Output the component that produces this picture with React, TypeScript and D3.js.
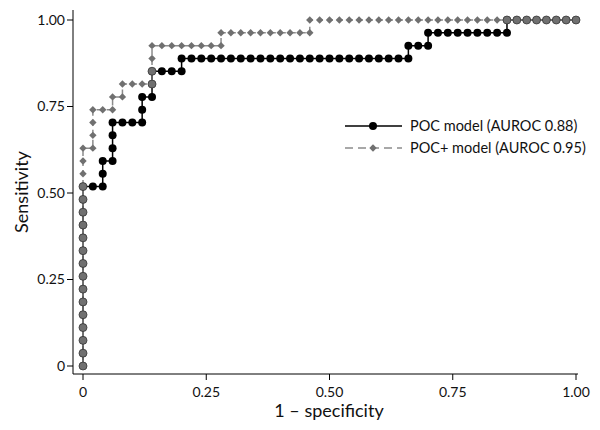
import React from "react";
import * as d3 from "d3";

// ROC data: counts of false positives (out of 50 negatives) and true positives (out of 27 positives)
const N_NEG = 50;
const N_POS = 27;

const pocFalsePos = [
  0, 0, 0, 0, 0, 0, 0, 0, 0, 0, 0, 0, 0, 0, 0,
  1, 2, 2, 2, 3, 3, 3, 3, 4, 5, 6, 6, 6, 7, 7, 7, 8, 9, 10, 10,
  11, 12, 13, 14, 15, 16, 17, 18, 19, 20, 21, 22, 23, 24, 25, 26, 27, 28, 29, 30, 31, 32, 33,
  33, 34, 35, 35,
  36, 37, 38, 39, 40, 41, 42, 43,
  43, 44, 45, 46, 47, 48, 49, 50,
];
const pocTruePos = [
  0, 1, 2, 3, 4, 5, 6, 7, 8, 9, 10, 11, 12, 13, 14,
  14, 14, 15, 16, 16, 17, 18, 19, 19, 19, 19, 20, 21, 21, 22, 23, 23, 23, 23, 24,
  24, 24, 24, 24, 24, 24, 24, 24, 24, 24, 24, 24, 24, 24, 24, 24, 24, 24, 24, 24, 24, 24, 24,
  25, 25, 25, 26,
  26, 26, 26, 26, 26, 26, 26, 26,
  27, 27, 27, 27, 27, 27, 27, 27,
];

const pocPlusFalsePos = [
  0, 0, 0, 0, 0, 0, 0, 0, 0, 0, 0, 0, 0, 0, 0, 0, 0, 0,
  1, 1, 1, 1, 2, 3, 3, 4, 4, 5, 6, 7, 7, 7, 7,
  8, 9, 10, 11, 12, 13, 14,
  14,
  15, 16, 17, 18, 19, 20, 21, 22, 23,
  23,
  24, 25, 26, 27, 28, 29, 30, 31, 32, 33, 34, 35, 36, 37, 38, 39, 40, 41, 42, 43, 44, 45, 46, 47, 48, 49, 50,
];
const pocPlusTruePos = [
  0, 1, 2, 3, 4, 5, 6, 7, 8, 9, 10, 11, 12, 13, 14, 15, 16, 17,
  17, 18, 19, 20, 20, 20, 21, 21, 22, 22, 22, 22, 23, 24, 25,
  25, 25, 25, 25, 25, 25, 25,
  26,
  26, 26, 26, 26, 26, 26, 26, 26, 26,
  27,
  27, 27, 27, 27, 27, 27, 27, 27, 27, 27, 27, 27, 27, 27, 27, 27, 27, 27, 27, 27, 27, 27, 27, 27, 27, 27, 27,
];

const xTicks = [0, 0.25, 0.5, 0.75, 1];
const xTickLabels = ["0", "0.25", "0.50", "0.75", "1.00"];
const yTicks = [0, 0.25, 0.5, 0.75, 1];
const yTickLabels = ["0", "0.25", "0.50", "0.75", "1.00"];
const seriesLabels = ["POC model (AUROC 0.88)", "POC+ model (AUROC 0.95)"];

const FONT = "Lato, 'Liberation Sans', sans-serif";
const GRAY = "#707070";
const DASH_GRAY = "#8c8c8c";

export default function App() {
  const x = d3.scaleLinear().domain([0, 1]).range([83, 576]);
  const y = d3.scaleLinear().domain([0, 1]).range([366, 20]);

  const poc = pocFalsePos.map((fp, i) => ({ fpr: fp / N_NEG, tpr: pocTruePos[i] / N_POS, fp, tp: pocTruePos[i] }));
  const pocPlus = pocPlusFalsePos.map((fp, i) => ({ fpr: fp / N_NEG, tpr: pocPlusTruePos[i] / N_POS, fp, tp: pocPlusTruePos[i] }));

  const key = (d: { fp: number; tp: number }) => `${d.fp}-${d.tp}`;
  const pocSet = new Set(poc.map(key));
  const plusSet = new Set(pocPlus.map(key));

  const line = d3
    .line<{ fpr: number; tpr: number }>()
    .x((d) => x(d.fpr))
    .y((d) => y(d.tpr));

  const overlapSegs: { a: any; b: any }[] = [];
  for (let i = 1; i < pocPlus.length; i++) {
    if (pocSet.has(key(pocPlus[i - 1])) && pocSet.has(key(pocPlus[i]))) {
      overlapSegs.push({ a: pocPlus[i - 1], b: pocPlus[i] });
    }
  }

  const diamond = (cx: number, cy: number, r: number) =>
    `M${cx},${cy - r}L${cx + r},${cy}L${cx},${cy + r}L${cx - r},${cy}Z`;

  const axisY = 374;
  const axisX = 73;

  return (
    <svg
      width={600}
      height={430}
      style={{ position: "absolute", left: 0, top: 0, background: "#fff" }}
      fontFamily={FONT}
    >
      <rect width={600} height={430} fill="#fff" />
      <line x1={axisX} x2={axisX} y1={10} y2={axisY} stroke="#000" strokeWidth={1} />
      <line x1={axisX} x2={578} y1={axisY} y2={axisY} stroke="#000" strokeWidth={1} />
      {yTicks.map((t, i) => (
        <g key={"yt" + i}>
          <line x1={axisX - 6} x2={axisX} y1={y(t)} y2={y(t)} stroke="#000" />
          <text x={axisX - 8} y={y(t)} dy="0.35em" textAnchor="end" fontSize={14} fill="#111">
            {yTickLabels[i]}
          </text>
        </g>
      ))}
      {xTicks.map((t, i) => (
        <g key={"xt" + i}>
          <line x1={x(t)} x2={x(t)} y1={axisY} y2={axisY + 6} stroke="#000" />
          <text x={x(t)} y={axisY + 18} dy="0.35em" textAnchor="middle" fontSize={14} fill="#111">
            {xTickLabels[i]}
          </text>
        </g>
      ))}
      <text x={329} y={411} dy="0.35em" textAnchor="middle" fontSize={18} fill="#111">
        1 – specificity
      </text>
      <text
        transform={`translate(22,192) rotate(-90)`}
        textAnchor="middle"
        dy="0.35em"
        fontSize={18}
        fill="#111"
      >
        Sensitivity
      </text>

      <path d={line(poc) || ""} fill="none" stroke="#000" strokeWidth={1.5} />
      <path d={line(pocPlus) || ""} fill="none" stroke={DASH_GRAY} strokeWidth={1.5} strokeDasharray="6,4" />
      {overlapSegs.map((s, i) => (
        <line
          key={"ov" + i}
          x1={x(s.a.fpr)}
          y1={y(s.a.tpr)}
          x2={x(s.b.fpr)}
          y2={y(s.b.tpr)}
          stroke={GRAY}
          strokeWidth={1.5}
        />
      ))}

      {poc.map((d, i) =>
        plusSet.has(key(d)) ? null : (
          <circle key={"pc" + i} cx={x(d.fpr)} cy={y(d.tpr)} r={4} fill="#000" />
        )
      )}
      {pocPlus.map((d, i) =>
        pocSet.has(key(d)) ? (
          <circle
            key={"pp" + i}
            cx={x(d.fpr)}
            cy={y(d.tpr)}
            r={4}
            fill={GRAY}
            stroke="#333"
            strokeWidth={0.8}
          />
        ) : (
          <path key={"pp" + i} d={diamond(x(d.fpr), y(d.tpr), 3.7)} fill={GRAY} />
        )
      )}

      <g>
        <line x1={345} x2={402} y1={126} y2={126} stroke="#000" strokeWidth={1.5} />
        <circle cx={373} cy={126} r={4} fill="#000" />
        <text x={410} y={126} dy="0.35em" fontSize={14.5} fill="#111">
          {seriesLabels[0]}
        </text>
        <line
          x1={345}
          x2={402}
          y1={148}
          y2={148}
          stroke={DASH_GRAY}
          strokeWidth={1.5}
          strokeDasharray="8,5"
        />
        <path d={diamond(373, 148, 3.7)} fill={GRAY} />
        <text x={410} y={148} dy="0.35em" fontSize={14.5} fill="#111">
          {seriesLabels[1]}
        </text>
      </g>
    </svg>
  );
}
